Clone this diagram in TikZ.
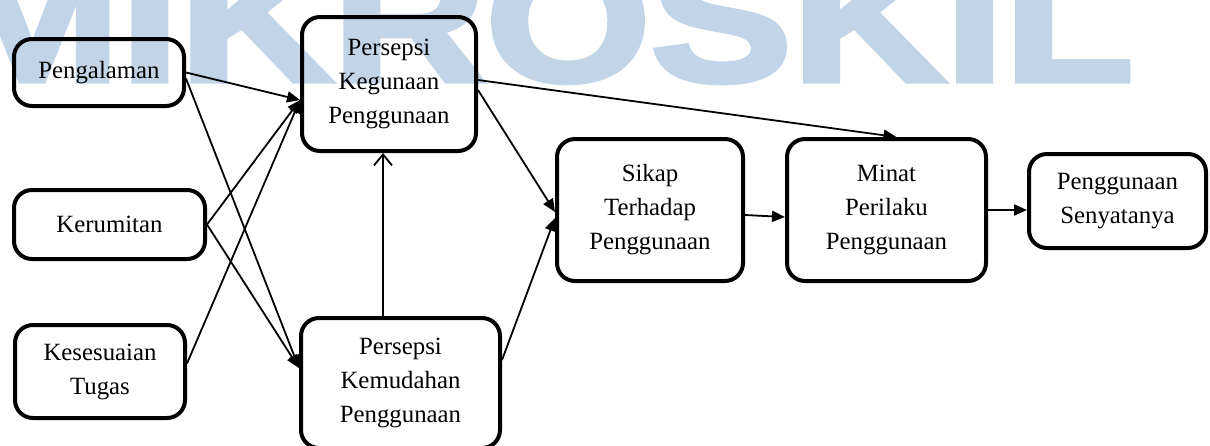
\documentclass[tikz,border=0pt]{standalone}
\usepackage{fontspec}
\setmainfont{Liberation Serif}
\newfontfamily\wmfont[FakeBold=3]{Liberation Sans Bold}
\usepackage{xcolor}
\usepackage{tikz}
\usetikzlibrary{arrows.meta}
\definecolor{wmblue}{RGB}{194,212,232}
\begin{document}
\begin{tikzpicture}[x=1pt,y=-1pt,>={Triangle[length=13pt,width=11pt]},
  box/.style={draw,rounded corners=18pt,line width=4pt,align=center,inner sep=0pt,font=\fontsize{24.8}{34}\selectfont},
  link/.style={->,line width=1.8pt}]
  \useasboundingbox (0,0) rectangle (1210,445);
  \node[anchor=base east,inner sep=0pt,text=wmblue,xscale=1.226,font=\wmfont\fontsize{173}{173}\selectfont] (wmark) at (1134,81) {MIKROSKIL};
  \node[box,minimum width=170pt,minimum height=67pt] (peng) at (99,72.5) {Pengalaman};
  \node[box,minimum width=191pt,minimum height=69pt] (kerum) at (109.5,224.5) {Kerumitan};
  \node[box,minimum width=170pt,minimum height=93pt] (kesu) at (100,371.5) {Kesesuaian\\Tugas};
  \node[box,minimum width=174pt,minimum height=134pt] (kegun) at (389,84) {Persepsi\\Kegunaan\\Penggunaan};
  \node[box,minimum width=199pt,minimum height=130pt] (kemud) at (400.5,383) {Persepsi\\Kemudahan\\Penggunaan};
  \node[box,minimum width=186pt,minimum height=142pt] (sikap) at (650,210) {Sikap\\Terhadap\\Penggunaan};
  \node[box,minimum width=199pt,minimum height=142pt] (minat) at (886.5,210) {Minat\\Perilaku\\Penggunaan};
  \node[box,minimum width=177pt,minimum height=94pt] (nyata) at (1117.5,201) {Penggunaan\\Senyatanya};
  \draw[link] (peng.east) -- ([yshift=-16pt]kegun.west);
  \draw[link] ([yshift=-6pt]peng.east) -- ([yshift=15pt]kemud.west);
  \draw[link] (kerum.east) -- ([yshift=-16pt]kegun.west);
  \draw[link] (kerum.east) -- ([yshift=15pt]kemud.west);
  \draw[link] ([yshift=8pt]kesu.east) -- ([yshift=-16pt]kegun.west);
  \draw[line width=1.8pt,-{Straight Barb[length=11pt,width=18pt]}] ([xshift=-6pt]kegun.south |- kemud.north) -- ([xshift=-6pt]kegun.south);
  \draw[link] ([yshift=-6pt]kegun.east) -- ([yshift=-2pt]sikap.west);
  \draw[link] ([yshift=23pt]kemud.east) -- ([yshift=-8pt]sikap.west);
  \draw[link] ([yshift=4pt]kegun.east) -- ([xshift=10pt]minat.north);
  \draw[link] ([yshift=-5pt]sikap.east) -- ([yshift=-7pt]minat.west);
  \draw[link] (minat.east) -- (minat.east -| nyata.west);
\end{tikzpicture}
\end{document}
